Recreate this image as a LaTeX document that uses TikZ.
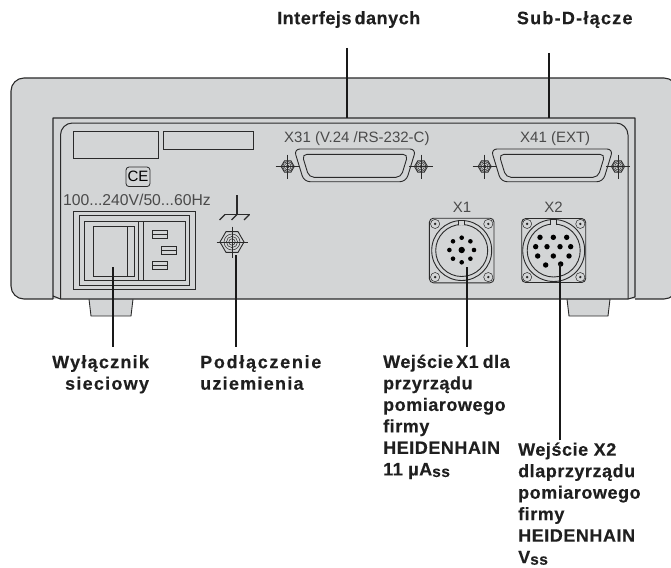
\documentclass[tikz,border=0pt]{standalone}
\usepackage{fontspec}
\setmainfont{Liberation Sans}
\newfontfamily\labfont[LetterSpace=3,BoldFeatures={FakeBold=0.35}]{Liberation Sans}
\newfontfamily\labwide[LetterSpace=7,BoldFeatures={FakeBold=0.35}]{Liberation Sans}
\newfontfamily\labwider[LetterSpace=9.5,BoldFeatures={FakeBold=0.35}]{Liberation Sans}
\usetikzlibrary{shapes.geometric}
\definecolor{bodygray}{HTML}{D3D5D6}
\definecolor{inkc}{HTML}{2A2A2A}
\definecolor{labelc}{HTML}{4A4A4A}
\newcommand{\fs}{\rule{0pt}{14pt}}
\newcommand{\subss}{\raisebox{-1.5pt}{\fontsize{15.5}{15.5}\selectfont ss}}
\tikzset{
  body/.style={draw=inkc,fill=bodygray,line width=1.1pt,line join=round},
  part/.style={draw=inkc,line width=.9pt},
  thin part/.style={draw=inkc,line width=.5pt},
  leader/.style={draw=black!90,line width=2pt},
  callout/.style={font=\labfont\fontsize{18}{21.5}\selectfont\bfseries,inner sep=0pt,text=black!88},
  plate/.style={font=\fontsize{15}{18}\selectfont,inner sep=0pt,text=labelc,anchor=base west},
}
% screw: centre x, y, hex radius, cross half length, three circle radii
\newcommand{\screw}[7]{%
  \draw[thin part] (#1-#4,#2) -- (#1+#4,#2) (#1,#2-#4) -- (#1,#2+#4);
  \draw[part] (#1-#3,#2) -- (#1-#3/2,#2-.866*#3) -- (#1+#3/2,#2-.866*#3) -- (#1+#3,#2) -- (#1+#3/2,#2+.866*#3) -- (#1-#3/2,#2+.866*#3) -- cycle;
  \draw[thin part] (#1,#2) circle (#5) (#1,#2) circle (#6) (#1,#2) circle (#7);
}
% D-sub shell with centre x and two screws
\newcommand{\dsub}[1]{%
  \draw[part,rounded corners=6pt,line width=.9pt] (#1-61,149) -- (#1+61,149) -- (#1+51,181.7) -- (#1-51,181.7) -- cycle;
  \draw[part,rounded corners=5pt,line width=.9pt] (#1-53,154.3) -- (#1+53,154.3) -- (#1+46,177.3) -- (#1-46,177.3) -- cycle;
  \screw{#1-67.3}{166.5}{6.5}{12}{1.8}{3.4}{5}
  \screw{#1+66}{166.5}{6.5}{12}{1.8}{3.4}{5}
}
% round connector: centre x, y, half side, corner offset, outer r, inner r
\newcommand{\roundconn}[6]{%
  \draw[part,rounded corners=4pt,line width=.9pt] (#1-#3,#2-#3) rectangle (#1+#3,#2+#3);
  \draw[part,line width=.9pt] (#1,#2) circle (#5) (#1,#2) circle (#6);
  \foreach \sx in {-1,1}\foreach \sy in {-1,1}{
    \draw[thin part,fill=bodygray] (#1+\sx*#4,#2+\sy*#4) circle (4.6);
    \fill[inkc] (#1+\sx*#4,#2+\sy*#4) circle (1.3);
  }
  \draw[part,fill=bodygray] (#1-3,#2-#5-.2) rectangle (#1+3,#2-#6+.2);
  \fill[bodygray] (#1-2.6,#2-#6+.8) rectangle (#1+2.6,#2-#6-1);
}
\begin{document}
\begin{tikzpicture}[x=1pt,y=-1pt]
\useasboundingbox (0,0) rectangle (671,567);
% feet
\draw[part,fill=bodygray] (89,299) -- (91,316) -- (131,316) -- (133,299);
\draw[part,fill=bodygray] (567,299) -- (569,316) -- (608,316) -- (610,299);
\begin{scope}
\clip (0,0) rectangle (671,567);
% outer case
\draw[body,rounded corners=13pt] (53,299) -- (11,299) -- (11,78) -- (677,78) -- (677,299) -- (635,299);
\end{scope}
% panel recess
\draw[body] (53,299) -- (53,118) -- (635,118) -- (635,297) -- (628,299) -- (60.5,299) -- (53,296);
\draw[part,line width=1pt,rounded corners=12pt] (60.5,299) -- (60.5,123) -- (628,123) -- (628,299);
% labels plates
\draw[part] (73,131) rectangle (158.5,158.5);
\draw[part] (163,131) rectangle (253.5,149.5);
\node[draw=inkc,line width=.8pt,rounded corners=3pt,minimum width=24pt,minimum height=19.5pt,inner sep=0pt,font=\fontsize{15}{15}\selectfont,text=black] (ce) at (138,176.8) {CE};
\node[plate,font=\fontsize{15.7}{18}\selectfont] (volt) at (63,205) {100...240V/50...60Hz};
% mains module
\draw[part] (73,211.3) rectangle (195.7,289.7);
\draw[part] (79,215.3) rectangle (189.7,285.7);
\draw[part] (84.3,221) rectangle (185,280);
\draw[part] (93,226) rectangle (134.7,276.7);
\draw[part] (127.3,226) -- (127.3,276.7);
\draw[part] (138.3,221) -- (138.3,280) (143.3,221) -- (143.3,280);
\foreach \xa/\ya in {152/230.7,161/246,152/261.7}{
  \draw[part] (\xa,\ya) rectangle (\xa+15.5,\ya+8);
  \draw[thin part] (\xa,\ya+4) -- (\xa+15.5,\ya+4);
}
% earth symbol and bolt
\draw[part,line width=1.1pt] (237,195) -- (237,214.5) (225,214.5) -- (250,214.5);
\draw[part,line width=1.1pt] (225,214.5) -- (219.5,220) (237,214.5) -- (231.5,220) (249.5,214.5) -- (244,220);
\screw{232}{242}{12}{15.5}{3.2}{5.6}{8}
% connector plates
\node[plate] (x31) at (284,142) {X31 (V.24 /RS-232-C)};
\node[plate] (x41) at (520,142) {X41 (EXT)};
\node[plate,anchor=base] (x1) at (462,212) {X1};
\node[plate,anchor=base] (x2) at (553.5,212) {X2};
\dsub{355}
\dsub{552}
\roundconn{461.7}{250.5}{32.3}{26.6}{30}{26}
\roundconn{553.7}{250.5}{32}{26.6}{31}{26.5}
\fill[black] (461.7,250) circle (3.2);
\foreach \a in {0,45,...,315}{\fill[black] (461.7,250) ++(\a:12.3) circle (2.3);}
\foreach \px/\py in {600/532,640/532,680/532,587/560,621/560,660/560,692/560,593/588,640/588,687/588,617/615,662/612}{
  \fill[black] ({340+\px/3},{60+\py/3}) circle (2.7);
}
% callouts
\node[callout,anchor=north west] (iface) at (277,10) {\fs Interfejs\,danych};
\node[callout,anchor=north west,font=\labwide\fontsize{18}{21.5}\selectfont\bfseries] (subd) at (516.7,10) {\fs Sub-D-łącze};
\node[callout,anchor=north west,align=right,font=\labwide\fontsize{18}{21.5}\selectfont\bfseries] (wyl) at (52,354) {\fs Wyłącznik\\sieciowy};
\node[callout,anchor=north west,align=left] (pod) at (200,354) {\fs {\labwider\bfseries Podłączenie}\\{\labwide\bfseries uziemienia}};
\node[callout,anchor=north west,align=left] (wx1) at (383,353.7) {\fs Wejście\hspace{3pt}X1\hspace{4pt}dla\\przyrządu\\pomiarowego\\firmy\\HEIDENHAIN\\11 µA\subss};
\node[callout,anchor=north west,align=left] (wx2) at (518,441.5) {\fs Wejście X2\\dlaprzyrządu\\pomiarowego\\firmy\\HEIDENHAIN\\V\subss};
% leaders
\coordinate (cA) at (346.7,118);
\coordinate (tA) at (346.7,48);
\coordinate (cB) at (549,118);
\coordinate (tB) at (549,53);
\coordinate (cC) at (113,267);
\coordinate (bC) at (113,347);
\coordinate (cD) at (235.7,255);
\coordinate (bD) at (235.7,347);
\coordinate (cE) at (467,267);
\coordinate (bE) at (467,347);
\coordinate (cF) at (560,264);
\coordinate (bF) at (560,440);
\draw[leader] (tA) -- (cA);
\draw[leader] (tB) -- (cB);
\draw[leader] (cC) -- (bC);
\draw[leader] (cD) -- (bD);
\draw[leader] (cE) -- (bE);
\draw[leader] (cF) -- (bF);
\end{tikzpicture}
\end{document}
